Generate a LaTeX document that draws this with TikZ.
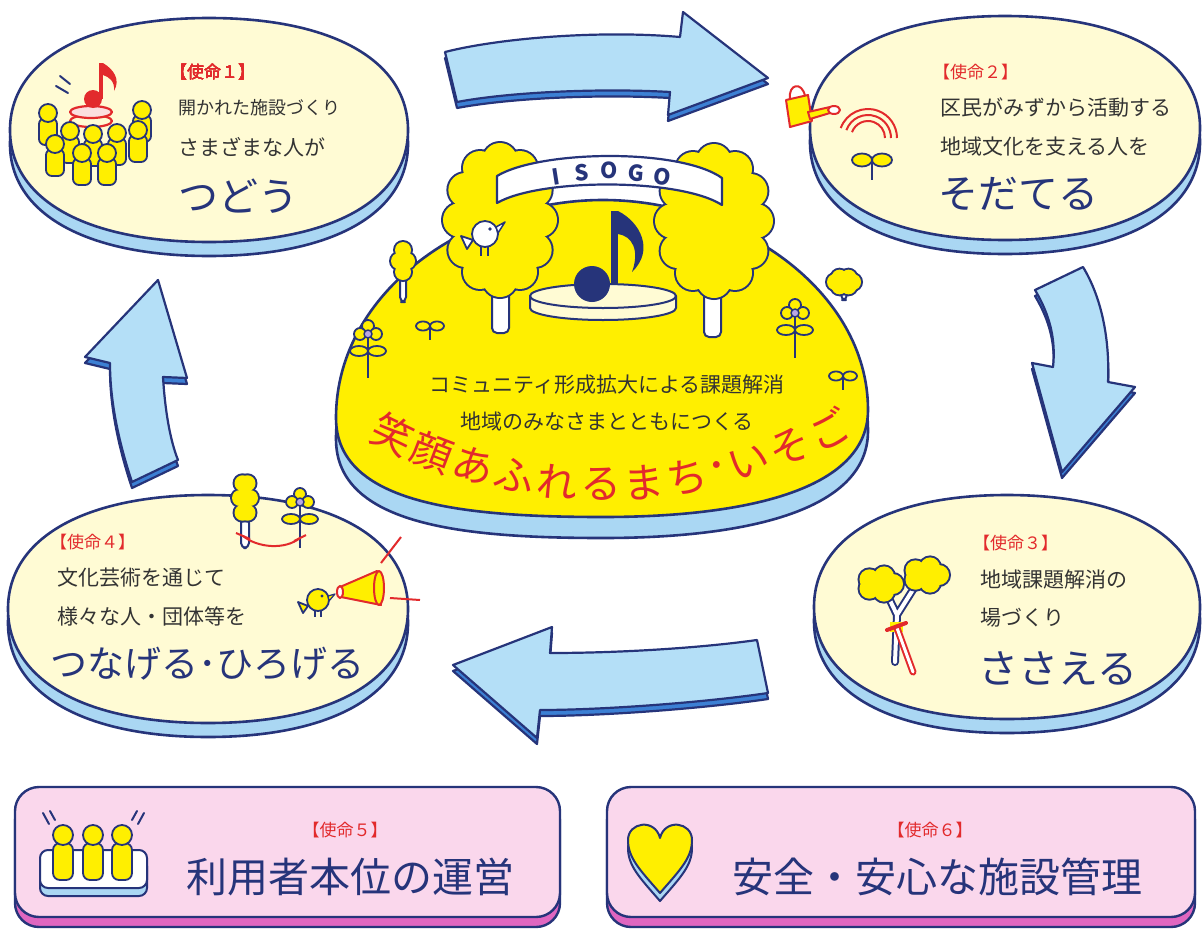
\documentclass[tikz,border=0pt]{standalone}
\usepackage{fontspec}
\newfontfamily\jp{Noto Sans CJK JP}

\definecolor{navy}{RGB}{38,52,122}
\definecolor{cream}{RGB}{255,251,212}
\definecolor{sideblue}{RGB}{170,215,243}
\definecolor{skyblue}{RGB}{180,223,247}
\definecolor{deepblue}{RGB}{60,128,212}
\definecolor{sunyellow}{RGB}{255,239,0}
\definecolor{mred}{RGB}{226,42,44}
\definecolor{inkgray}{RGB}{51,51,51}
\definecolor{pinkface}{RGB}{250,215,236}
\definecolor{pinkside}{RGB}{224,102,192}
\definecolor{lilac}{RGB}{186,168,228}

% rounded oval, unit size
\newcommand{\ovalpath}{(1,0) .. controls (1,0.62) and (0.62,1) .. (0,1) .. controls (-0.62,1) and (-1,0.62) .. (-1,0) .. controls (-1,-0.62) and (-0.62,-1) .. (0,-1) .. controls (0.62,-1) and (1,-0.62) .. (1,0) -- cycle}

% cloud shaped tree top: [bump step] centre x, centre y, half axes, bump radius
\newcommand{\crown}[6][30]{%
  \begin{scope}[shift={(#2,#3)}]
    \fill[navy] (0,0) ellipse ({#4+2} and {#5+2});
    \foreach \a in {0,#1,...,359} \fill[navy] (\a:#4 and #5) circle ({#6+2});
    \fill[sunyellow] (0,0) ellipse (#4 and #5);
    \foreach \a in {0,#1,...,359} \fill[sunyellow] (\a:#4 and #5) circle (#6);
  \end{scope}}

% little yellow person, head at (#1,#2)
\newcommand{\person}[2]{%
  \draw[figure,rounded corners=6pt] ({#1-9},{#2+5}) rectangle ({#1+9},{#2+32});
  \draw[figure] (#1,#2) circle (9);}

% flower: blossom centre and stem length
\newcommand{\flower}[3]{%
  \draw[navy,line width=1.8pt] (#1,#2) -- ++(0,#3);
  \draw[figure] ({#1-9},{#2+17}) ellipse (9 and 5);
  \draw[figure] ({#1+9},{#2+17}) ellipse (9 and 5);
  \draw[figure] (#1,{#2-8}) circle (6);
  \draw[figure] ({#1-8},#2) circle (6);
  \draw[figure] ({#1+8},#2) circle (6);
  \draw[navy,line width=1.5pt,fill=lilac] (#1,#2) circle (4);}

% sprout: position and leaf size
\newcommand{\sprout}[3]{%
  \draw[navy,line width=2pt] (#1,#2) -- ++(0,{2*#3});
  \draw[figure] ({#1-#3},#2) ellipse (#3 and {0.65*#3});
  \draw[figure] ({#1+#3},#2) ellipse (#3 and {0.65*#3});}

\begin{document}
\begin{tikzpicture}[x=1pt,y=-1pt,line join=round,
  panel/.style={draw=navy,line width=2.6pt,fill=cream,
    preaction={draw=navy,line width=2.6pt,fill=sideblue,transform canvas={yshift=-14pt}}},
  ground/.style={draw=navy,line width=2.6pt,fill=sunyellow,
    preaction={draw=navy,line width=2.6pt,fill=sideblue,transform canvas={yshift=-21pt}}},
  duty/.style={draw=navy,line width=2.4pt,fill=pinkface,rounded corners=24pt,
    preaction={draw=navy,line width=2.4pt,fill=pinkside,transform canvas={yshift=-10pt}}},
  flow/.style={draw=navy,line width=2.2pt,fill=skyblue,
    preaction={draw=navy,line width=2.2pt,fill=deepblue,transform canvas={yshift=-6pt}}},
  figure/.style={draw=navy,line width=1.8pt,fill=sunyellow},
  trunk/.style={draw=navy,line width=2pt,fill=white,rounded corners=5pt},
  mission/.style={text=mred,font=\jp\fontsize{17}{17}\selectfont,inner sep=0pt},
  body/.style={text=inkgray,font=\jp\fontsize{21}{21}\selectfont,anchor=west,inner sep=0pt},
  title/.style={text=navy,font=\jp\fontsize{40}{40}\selectfont,inner sep=0pt},
  smile/.style={text=mred,font=\jp\fontsize{41}{41}\selectfont,inner sep=0pt}]

\fill[white] (0,0) rectangle (1202,929);
\useasboundingbox (0,0) rectangle (1202,929);

% cycle arrows
\draw[flow] (445,52) .. controls (500,38) and (600,30) .. (680,37) -- (683,12) -- (768,78) -- (668,115) -- (670,92) .. controls (600,88) and (510,92) .. (457,102) -- cycle;
\draw[flow] (1035,290) .. controls (1050,315) and (1056,340) .. (1053,367) -- (1032,363) -- (1062,472) -- (1135,387) -- (1108,382) .. controls (1110,335) and (1100,295) .. (1083,267) -- cycle;
\draw[flow] (768,693) .. controls (700,703) and (600,710) .. (540,710) -- (537,738) -- (453,665) -- (552,627) -- (550,653) .. controls (620,653) and (700,648) .. (757,640) -- cycle;
\draw[flow] (132,482) .. controls (118,440) and (110,400) .. (110,363) -- (85,357) -- (158,280) -- (187,378) -- (163,377) .. controls (165,410) and (170,440) .. (178,460) -- cycle;

% the four mission ovals
\draw[panel,shift={(209,130)},xscale=199,yscale=112] \ovalpath;
\draw[panel,shift={(1005,128)},xscale=195,yscale=112] \ovalpath;
\draw[panel,shift={(1007,607)},xscale=193,yscale=112] \ovalpath;
\draw[panel,shift={(208,609)},xscale=200,yscale=114] \ovalpath;

% bottom boxes
\draw[duty] (15,787) rectangle (560,917);
\draw[duty] (607,787) rectangle (1195,917);

% park in the middle
\draw[ground] (336,418) .. controls (336,290) and (470,200) .. (603,200) .. controls (736,200) and (868,290) .. (868,410) .. controls (868,492) and (740,517) .. (603,517) .. controls (466,517) and (336,505) .. (336,418) -- cycle;
\draw[trunk] (492,280) rectangle (509,333);
\draw[trunk] (704,280) rectangle (721,337);
\crown{500}{220}{40}{60}{17}
\crown{714}{221}{42}{60}{17}
\draw[navy,line width=2.2pt,fill=white] (497,176) .. controls (540,150) and (680,148) .. (722,178) -- (722,205) .. controls (680,178) and (540,178) .. (497,203) -- cycle;
\foreach \l/\x/\y/\r [count=\i] in {I/556/177/9,S/582/173/5,O/609/170/0,G/636/173/-5,O/662/177/-9}
  \node[text=navy,font=\jp\bfseries\fontsize{22}{22}\selectfont,rotate=\r,inner sep=0pt] (isogo\i) at (\x,\y) {\l};
% stage and note
\draw[navy,line width=2pt,fill=cream] (530,296) -- (530,308) arc[start angle=180,end angle=0,x radius=73,y radius=12] -- (676,296) -- cycle;
\draw[navy,line width=2pt,fill=cream] (603,296) ellipse (73 and 12);
\fill[navy] (592,284) circle (18);
\fill[navy] (611,211) rectangle (618,284);
\fill[navy] (618,211) .. controls (640,222) and (655,250) .. (632,272) .. controls (640,250) and (632,236) .. (618,234) -- cycle;
% bird on the tree
\draw[navy,line width=1.8pt,fill=white] (473,240) -- (461,236) -- (467,249) -- cycle;
\draw[navy,line width=1.8pt,fill=white] (485,234) circle (13);
\fill[navy] (490,229) circle (1.8);
\draw[navy,line width=1.5pt,fill=white] (496,227) -- (505,222) -- (498,233) -- cycle;
\draw[navy,line width=1.5pt] (481,247) -- (481,256) (488,247) -- (488,256);
% small plants
\draw[trunk] (400,276) rectangle (406,302);
\crown[90]{403}{261}{4}{11}{8}
\draw[trunk] (841,288) rectangle (847,300);
\crown[60]{844}{282}{9}{5}{8}
\flower{368}{334}{44}
\flower{795}{313}{45}
\sprout{430}{326}{7}
\sprout{843}{376}{7}

\node[body,anchor=center] (goal1) at (607,385) {コミュニティ形成拡大による課題解消};
\node[body,anchor=center] (goal2) at (607,422) {地域のみなさまとともにつくる};
\foreach \c/\p [count=\i] in {笑/-26.0,顔/-20.9,あ/-15.8,ふ/-10.7,れ/-5.6,る/-0.5,ま/4.6,ち/9.7,･/13.5,い/17.3,そ/22.4,ご/27.5}
  \node[smile,rotate=\p] (motto\i) at ({605+485*sin(\p)},{-1+485*cos(\p)}) {\c};

% mission 1
\draw[navy,line width=2pt,line cap=round] (56,86) -- (68,93) (60,76) -- (70,84);
\person{48}{113}
\person{142}{110}
\draw[mred,line width=2.2pt,fill=cream] (91,121) ellipse (21 and 6);
\draw[mred,line width=2.2pt,fill=mred!15] (91,112) ellipse (21 and 6);
\fill[mred] (93,99) circle (9);
\fill[mred] (99,63) rectangle (103,99);
\fill[mred] (103,63) .. controls (113,69) and (121,79) .. (114,91) .. controls (115,81) and (109,77) .. (103,75) -- cycle;
\foreach \x/\y in {70/131,93/134,117/133,138/130,55/144,82/153,107/153}
  \person{\x}{\y}
\node[mission,anchor=west] (m1tag) at (170,72) {【使命１】};
\node[body,font=\jp\fontsize{18}{18}\selectfont] (m1a) at (178,108) {開かれた施設づくり};
\node[body] (m1b) at (178,147) {さまざまな人が};
\node[title,anchor=west] (m1) at (178,196) {つどう};

% mission 2
\draw[mred,line width=2pt] (790,99) .. controls (788,84) and (802,81) .. (805,96);
\draw[mred,line width=2pt,fill=sunyellow] (786,100) -- (808,95) -- (812,121) -- (790,127) -- cycle;
\draw[mred,line width=2pt,fill=sunyellow] (808,112) -- (830,107) -- (830,113) -- (810,119) -- cycle;
\draw[mred,line width=2pt,fill=white] (834,110) ellipse (6 and 4);
\foreach \r in {17,23,29}
  \draw[mred,line width=2pt] (868,138) ++(200:\r) arc[start angle=200,end angle=360,radius=\r];
\sprout{872}{160}{10}
\node[mission,anchor=west] (m2tag) at (933,72) {【使命２】};
\node[body] (m2a) at (940,108) {区民がみずから活動する};
\node[body] (m2b) at (940,147) {地域文化を支える人を};
\node[title,anchor=west] (m2) at (938,194) {そだてる};

% mission 3
\draw[navy,line width=8pt,line cap=round] (895,662) -- (897,615) -- (886,592) (897,615) -- (914,588);
\draw[white,line width=4pt,line cap=round] (895,662) -- (897,615) -- (886,592) (897,615) -- (914,588);
\crown[72]{880}{584}{13}{8}{10}
\crown[72]{926}{575}{13}{8}{10}
\fill[sunyellow] (890,622) rectangle (903,632);
\draw[mred,line width=7pt,line cap=round] (913,672) -- (897,628);
\draw[white,line width=3pt,line cap=round] (913,672) -- (897,628);
\draw[mred,line width=4pt,line cap=round] (887,630) -- (906,623);
\node[mission,anchor=west] (m3tag) at (973,543) {【使命３】};
\node[body] (m3a) at (980,580) {地域課題解消の};
\node[body] (m3b) at (980,618) {場づくり};
\node[title,anchor=west] (m3) at (978,668) {ささえる};

% mission 4
\draw[trunk] (241,518) rectangle (249,548);
\crown[60]{245}{498}{5}{17}{8}
\flower{300}{502}{46}
\draw[mred,line width=2pt] (243,536) .. controls (258,548) and (285,550) .. (300,538);
\draw[mred,line width=2pt] (236,533) -- (250,539) (294,541) -- (306,535);
\draw[figure] (308,606) -- (298,602) -- (303,613) -- cycle;
\draw[figure] (318,600) circle (11);
\fill[navy] (322,596) circle (1.6);
\draw[navy,line width=1.2pt,fill=sunyellow] (328,596) -- (335,594) -- (329,601) -- cycle;
\draw[navy,line width=1.5pt] (315,611) -- (315,617) (321,611) -- (321,617);
\draw[mred,line width=2pt,fill=sunyellow] (340,587) -- (377,571) -- (381,605) -- (341,597) -- cycle;
\draw[mred,line width=2pt,fill=sunyellow] (379,588) ellipse (5 and 17);
\draw[mred,line width=2pt,fill=white] (340,592) ellipse (3 and 6);
\draw[mred,line width=2pt] (381,563) -- (401,537) (390,598) -- (420,600);
\node[mission,anchor=west] (m4tag) at (50,542) {【使命４】};
\node[body] (m4a) at (57,578) {文化芸術を通じて};
\node[body] (m4b) at (57,616) {様々な人・団体等を};
\node[title,font=\jp\fontsize{37}{37}\selectfont,anchor=west] (m4) at (50,664) {つなげる･ひろげる};

% mission 5
\draw[navy,line width=2pt,fill=sideblue,rounded corners=8pt] (40,858) rectangle (147,896);
\draw[navy,line width=2pt,fill=white,rounded corners=8pt] (40,850) rectangle (147,888);
\foreach \x in {63,93,122} {
  \draw[figure,rounded corners=7pt] ({\x-10},843) rectangle ({\x+10},880);
  \draw[figure] (\x,835) circle (10);
}
\draw[navy,line width=2pt,line cap=round] (43,813) -- (49,824) (50,811) -- (55,820) (137,811) -- (132,820) (144,813) -- (138,824);
\node[mission] (m5tag) at (345,830) {【使命５】};
\node[title,font=\jp\fontsize{41}{41}\selectfont] (m5) at (350,877) {利用者本位の運営};

% mission 6
\draw[navy,line width=2pt,fill=sideblue] (660,901) .. controls (640,878) and (628,866) .. (628,848) .. controls (628,830) and (655,826) .. (660,846) .. controls (665,826) and (692,830) .. (692,848) .. controls (692,866) and (680,878) .. (660,901) -- cycle;
\draw[navy,line width=2pt,fill=sunyellow] (660,893) .. controls (640,870) and (628,858) .. (628,840) .. controls (628,822) and (655,818) .. (660,838) .. controls (665,818) and (692,822) .. (692,840) .. controls (692,858) and (680,870) .. (660,893) -- cycle;
\node[mission] (m6tag) at (930,830) {【使命６】};
\node[title,font=\jp\fontsize{41}{41}\selectfont] (m6) at (937,877) {安全・安心な施設管理};
\end{tikzpicture}
\end{document}
